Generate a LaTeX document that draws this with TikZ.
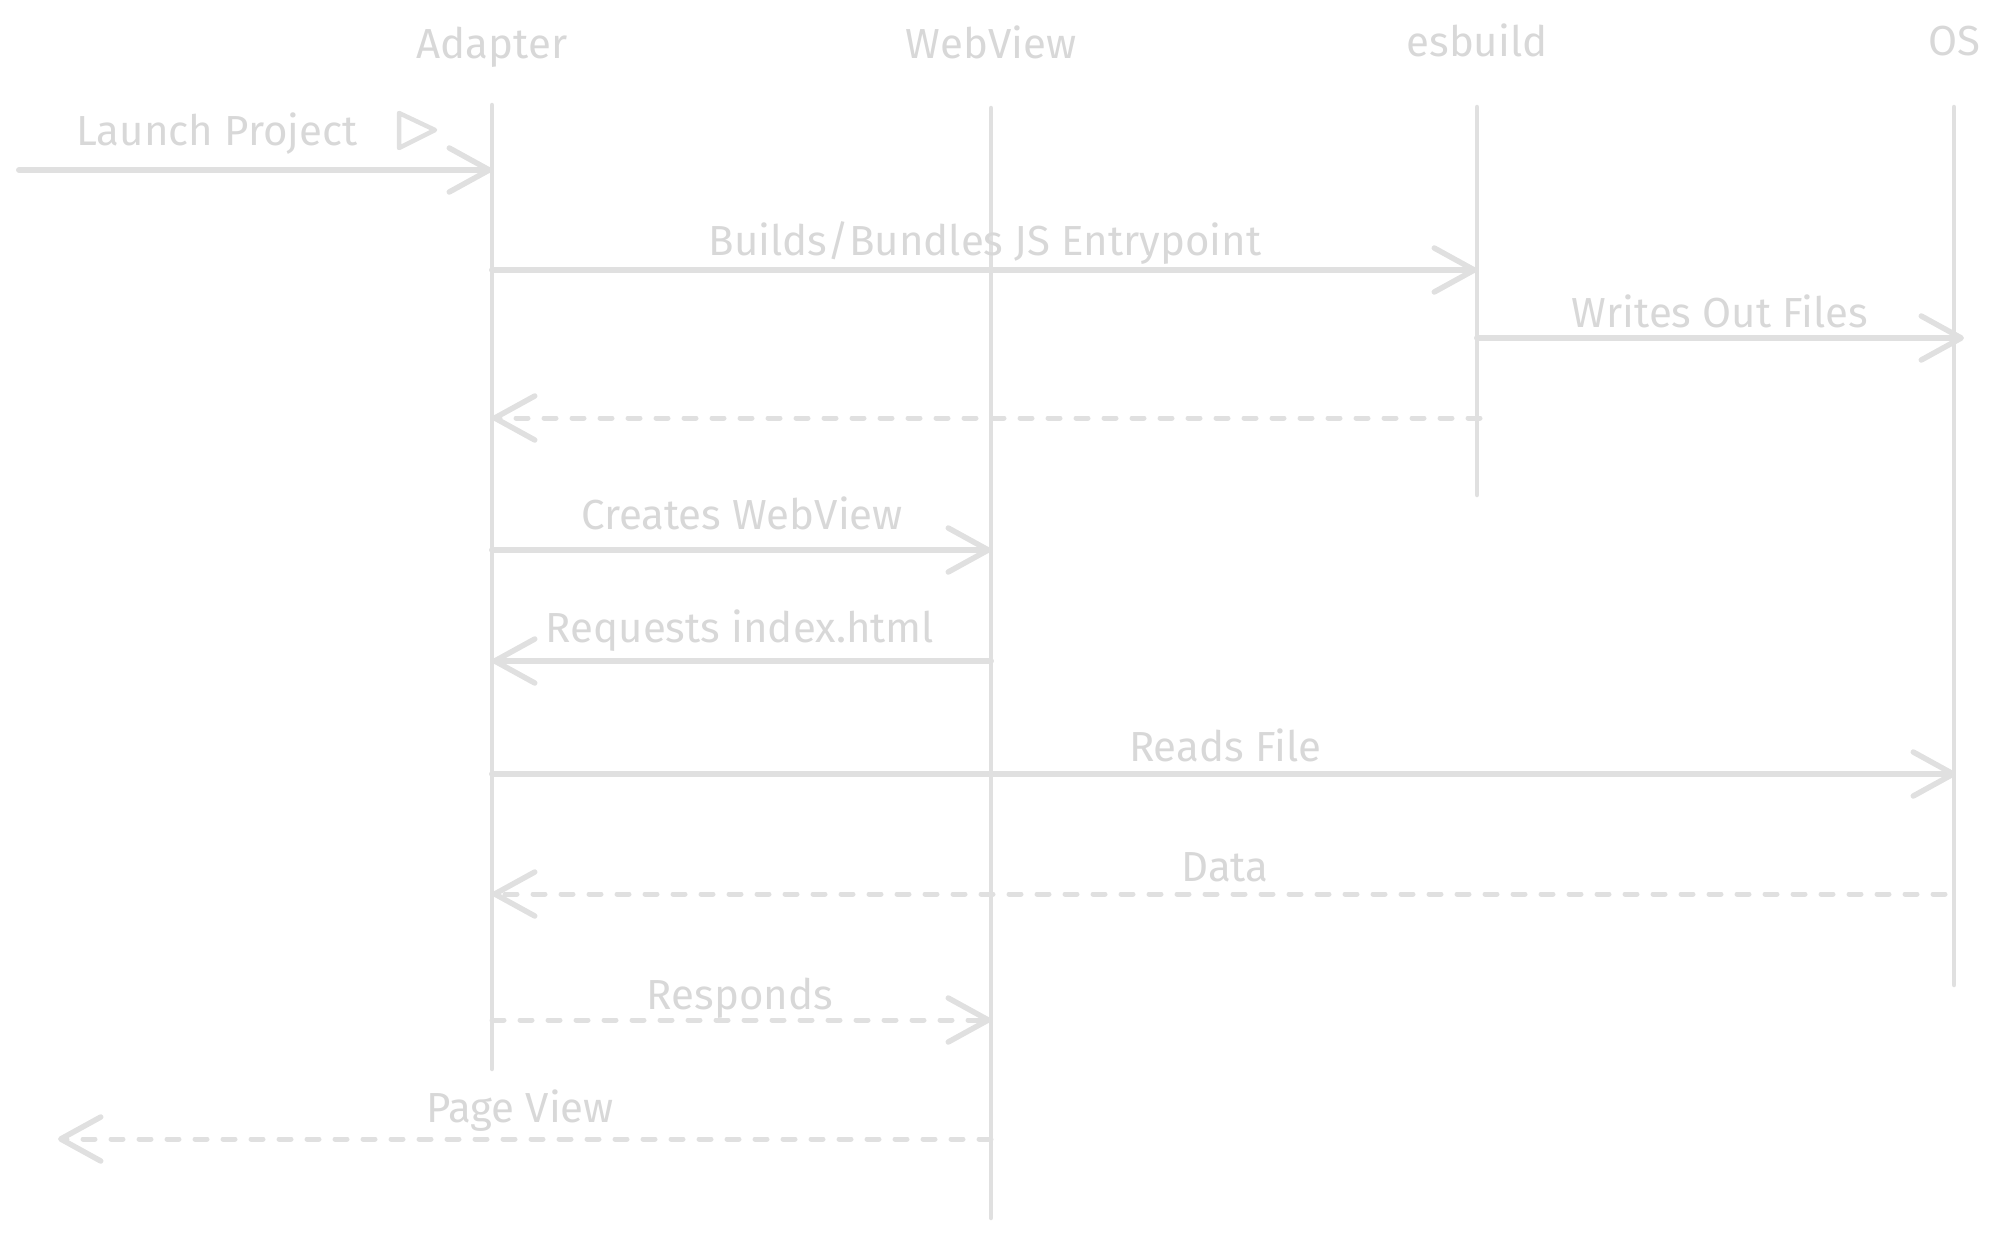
\documentclass[tikz,border=0pt]{standalone}
\usepackage{fontspec}
\setmainfont{Fira Sans}
\usetikzlibrary{arrows.meta}
\definecolor{ln}{HTML}{E0E0E0}
\definecolor{tx}{HTML}{D8D8D8}
\begin{document}
\begin{tikzpicture}[x=1pt,y=-1pt,
 lbl/.style={text=tx, font=\fontsize{42}{48}\selectfont, inner sep=0pt, anchor=base},
 life/.style={draw=ln, line width=4.5pt, line cap=round},
 msg/.style={draw=ln, line width=6pt, line cap=round, -{Straight Barb[length=40pt,width=44pt,line width=5.5pt,round]}},
 ret/.style={msg, line width=5pt, dash pattern=on 12pt off 16pt},
]
\useasboundingbox (0,0) rectangle (2000,1239);
% headers
\node[lbl] (hA) at (492,59) {Adapter};
\node[lbl] (hW) at (991,59) {WebView};
\node[lbl] (hE) at (1477,57) {esbuild};
\node[lbl] (hO) at (1954,56) {OS};
% lifelines
\coordinate (At) at (492,105);  \coordinate (Ab) at (492,1069);
\coordinate (Wt) at (991,108);  \coordinate (Wb) at (991,1218);
\coordinate (Et) at (1477,107); \coordinate (Eb) at (1477,495);
\coordinate (Ot) at (1954,107); \coordinate (Ob) at (1954,985);
\draw[life] (At) -- (Ab);
\draw[life] (Wt) -- (Wb);
\draw[life] (Et) -- (Eb);
\draw[life] (Ot) -- (Ob);
% message anchors
\coordinate (s1) at (19,170);   \coordinate (A1) at (492,170);
\coordinate (A2) at (492,270);  \coordinate (E2) at (1477,270);
\coordinate (E3) at (1477,338); \coordinate (O3) at (1964,338);
\coordinate (E4) at (1480,418); \coordinate (A4) at (492,418);
\coordinate (A5) at (492,550);  \coordinate (W5) at (991,550);
\coordinate (W6) at (991,661);  \coordinate (A6) at (492,661);
\coordinate (A7) at (492,774);  \coordinate (O7) at (1956,774);
\coordinate (O8) at (1945,894); \coordinate (A8) at (492,894);
\coordinate (A9) at (492,1020); \coordinate (W9) at (991,1020);
\coordinate (W10) at (991,1139); \coordinate (e10) at (58,1139);
% messages
\draw[msg] (s1) -- (A1);
\draw[msg] (A2) -- (E2);
\draw[msg] (E3) -- (O3);
\draw[ret] (E4) -- (A4);
\draw[msg] (A5) -- (W5);
\draw[msg] (W6) -- (A6);
\draw[msg] (A7) -- (O7);
\draw[ret] (O8) -- (A8);
\draw[ret] (A9) -- (W9);
\draw[ret] (W10) -- (e10);
% labels
\node[lbl] (l1) at (217,145) {Launch Project};
\draw[draw=ln, line width=4.5pt, line join=round] (399,113) -- (399,148) -- (435,130) -- cycle;
\node[lbl] (l2) at (985,255) {Builds/Bundles JS Entrypoint};
\node[lbl] (l3) at (1720,327) {Writes Out Files};
\node[lbl] (l5) at (742,529) {Creates WebView};
\node[lbl] (l6) at (740,642) {Requests index.html};
\node[lbl] (l7) at (1225,761) {Reads File};
\node[lbl] (l8) at (1225,881) {Data};
\node[lbl] (l9) at (740,1009) {Responds};
\node[lbl] (l10) at (520,1122) {Page View};
\end{tikzpicture}
\end{document}
